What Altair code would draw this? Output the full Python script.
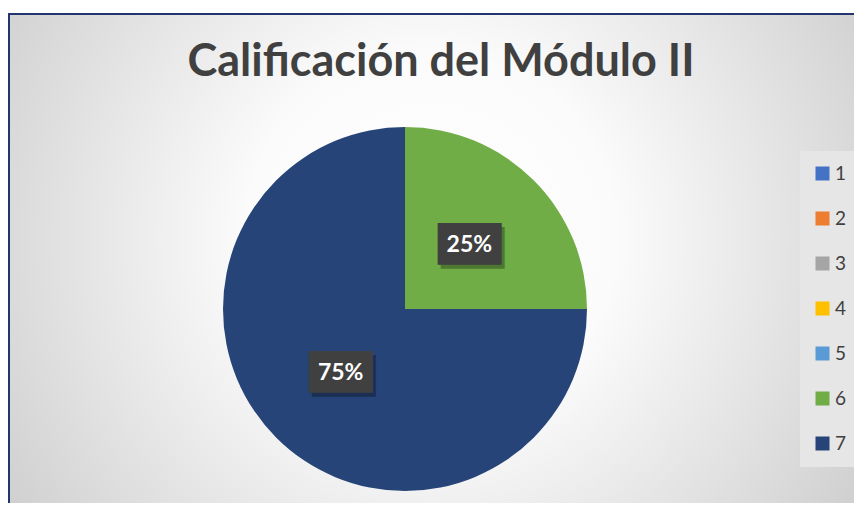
import altair as alt
import pandas as pd

categories = ["1", "2", "3", "4", "5", "6", "7"]
values = [0, 0, 0, 0, 0, 25, 75]
colors = ["#4472C4", "#ED7D31", "#A5A5A5", "#FFC000", "#5B9BD5", "#70AD47", "#264478"]
title_text = "Calificación del Módulo II"

total = sum(values)
df = pd.DataFrame({
    "cat": categories,
    "value": values,
    "order": list(range(len(categories))),
    "label": [f"{round(v / total * 100)}%" for v in values],
})

CX, CY, R, LR = 397, 301, 182, 91

base = alt.Chart(df)

bg = alt.Chart(pd.DataFrame({"a": [0]})).mark_rect(
    fill={
        "gradient": "radial",
        "x1": 0.48, "y1": 0.44, "r1": 0,
        "x2": 0.48, "y2": 0.44, "r2": 0.7,
        "stops": [
            {"offset": 0, "color": "#ffffff"},
            {"offset": 0.3, "color": "#fbfbfb"},
            {"offset": 1, "color": "#c0c0c0"},
        ],
    },
    stroke="#22356f",
    strokeWidth=2,
).encode(
    x=alt.value(1), x2=alt.value(880), y=alt.value(6), y2=alt.value(560)
)

title = alt.Chart(pd.DataFrame({"t": [title_text]})).mark_text(
    font="Lato", fontWeight="bold", fontSize=45, color="#404040",
    align="center", baseline="alphabetic",
).encode(text="t:N", x=alt.value(433), y=alt.value(68))

pie = base.mark_arc(outerRadius=R).encode(
    theta=alt.Theta("value:Q", stack=True),
    color=alt.Color(
        "cat:N",
        scale=alt.Scale(domain=categories, range=colors),
        sort=categories,
        legend=alt.Legend(title=None),
    ),
    order=alt.Order("order:Q"),
    x=alt.value(CX),
    y=alt.value(CY),
)

lab = base.transform_filter(alt.datum.value > 0)

shadow = lab.mark_text(
    font="DejaVu Sans Mono", fontSize=35, color="#000000", opacity=0.3,
    align="center", baseline="middle", dx=3, dy=4,
).encode(
    theta=alt.Theta("value:Q", stack=True),
    radius=alt.value(LR),
    order=alt.Order("order:Q"),
    text=alt.value("███"),
    x=alt.value(CX), y=alt.value(CY),
)

box = lab.mark_text(
    font="DejaVu Sans Mono", fontSize=35, color="#404040",
    align="center", baseline="middle",
).encode(
    theta=alt.Theta("value:Q", stack=True),
    radius=alt.value(LR),
    order=alt.Order("order:Q"),
    text=alt.value("███"),
    x=alt.value(CX), y=alt.value(CY),
)

txt = lab.mark_text(
    font="Lato", fontWeight="bold", fontSize=23, color="#ffffff",
    align="center", baseline="middle",
).encode(
    theta=alt.Theta("value:Q", stack=True),
    radius=alt.value(LR),
    order=alt.Order("order:Q"),
    text="label:N",
    x=alt.value(CX), y=alt.value(CY),
)

chart = alt.layer(bg, title, pie, shadow, box, txt).properties(
    width=846, height=495, padding=0, autosize=alt.AutoSizeParams(type="none"),
    background="white",
).configure_view(stroke=None).configure_legend(
    orient="none", legendX=792, legendY=143,
    fillColor="#e6e6e6", padding=13,
    symbolType="square", symbolSize=196, symbolStrokeWidth=0,
    labelFontSize=19, labelColor="#404040", labelFont="Lato",
    rowPadding=25, labelOffset=3,
)

chart.save("out.html", embed_options={"renderer": "svg", "actions": False})
